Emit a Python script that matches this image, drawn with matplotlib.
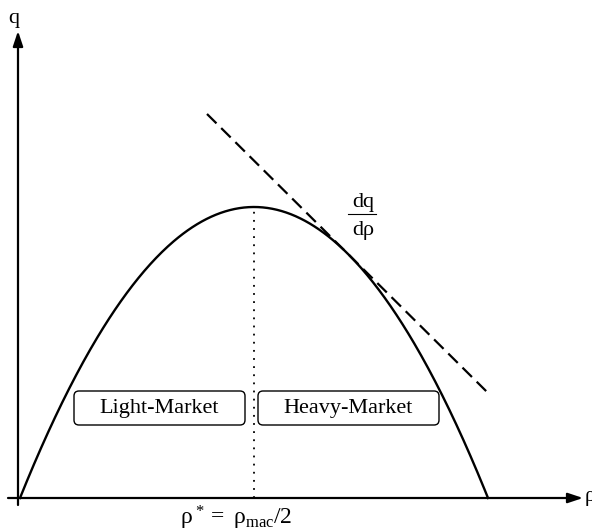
#!/usr/bin/env python3
# -*- coding: utf-8 -*-
'''
Fundamental diagram sketch: q vs rho, light / heavy market
'''
import numpy as np
import matplotlib
matplotlib.use('Agg')
import matplotlib.pyplot as plt
from matplotlib.patches import FancyBboxPatch

plt.rcParams['font.family'] = ['Liberation Serif', 'DejaVu Serif']
plt.rcParams['mathtext.fontset'] = 'custom'
plt.rcParams['mathtext.rm'] = 'Liberation Serif'
plt.rcParams['mathtext.it'] = 'Liberation Serif'

#**********************************************
''' data '''
#**********************************************
rho_min = 2.0        # left root of the curve
rho_max = 470.0      # right root of the curve
q_peak = 291.0       # capacity at rho* = rho_max/2
rho_tangent = 329.4  # where the dq/drho tangent touches
tangent_span = [189.0, 469.0]
regions = ['Light-Market', 'Heavy-Market']
region_centers = [141.5, 330.5]
region_widths = [171.0, 181.0]
region_y = 90.0
region_h = 34.0

def q_of(rho):
    c = 0.5*(rho_min + rho_max)
    h = 0.5*(rho_max - rho_min)
    return q_peak*(1.0 - ((rho - c)/h)**2)

def dq_of(rho):
    c = 0.5*(rho_min + rho_max)
    h = 0.5*(rho_max - rho_min)
    return -2.0*q_peak*(rho - c)/h**2

#**********************************************
''' plot '''
#**********************************************
fig = plt.figure(figsize=(5.92, 5.31), dpi=100)
ax = fig.add_axes([0, 0, 1, 1])
ax.set_xlim(-18, 574)
ax.set_ylim(-33, 498)
ax.axis('off')

# axes with arrows
ax.annotate('', xy=(0, 467), xytext=(0, -7),
            arrowprops=dict(arrowstyle='-|>,head_length=0.9,head_width=0.3',
                            lw=1.6, color='black', shrinkA=0, shrinkB=0))
ax.annotate('', xy=(565, 0), xytext=(-10, 0),
            arrowprops=dict(arrowstyle='-|>,head_length=0.9,head_width=0.3',
                            lw=1.6, color='black', shrinkA=0, shrinkB=0))
ax.text(-4, 480, 'q', fontsize=16, ha='center', va='center')
ax.text(567, 1, 'ρ', fontsize=16, ha='left', va='center')

# parabola
rho = np.linspace(rho_min, rho_max, 400)
ax.plot(rho, q_of(rho), color='black', lw=1.7)

# vertical dotted line at rho*
rho_star = 0.5*(rho_min + rho_max)
ax.plot([rho_star, rho_star], [0, q_of(rho_star)], color='black', lw=1.3,
        linestyle=(0, (1, 3.5)))

# tangent line
slope = dq_of(rho_tangent)
tx = np.array(tangent_span)
ty = q_of(rho_tangent) + slope*(tx - rho_tangent)
ax.plot(tx, ty, color='black', lw=1.6, dashes=(6, 3))

# dq/drho label
ax.text(345, 296, 'dq', fontsize=16, ha='center', va='center')
ax.plot([330, 358], [284, 284], color='black', lw=0.8)
ax.text(345, 268, 'dρ', fontsize=16, ha='center', va='center')

# region boxes
for name, cx, w in zip(regions, region_centers, region_widths):
    box = FancyBboxPatch((cx - w/2 + 5, region_y - region_h/2 + 5), w - 10, region_h - 10,
                         boxstyle='round,pad=5', fc='white', ec='black', lw=1.0)
    ax.add_patch(box)
    ax.text(cx, region_y, name, fontsize=16, ha='center', va='center')

# rho* label
ax.text(rho_star - 18, -20, r'$\rho^* = \ \rho_{\mathrm{mac}}/2$', fontsize=17,
        ha='center', va='center')

plt.savefig('out.png', dpi=100)
plt.close()
